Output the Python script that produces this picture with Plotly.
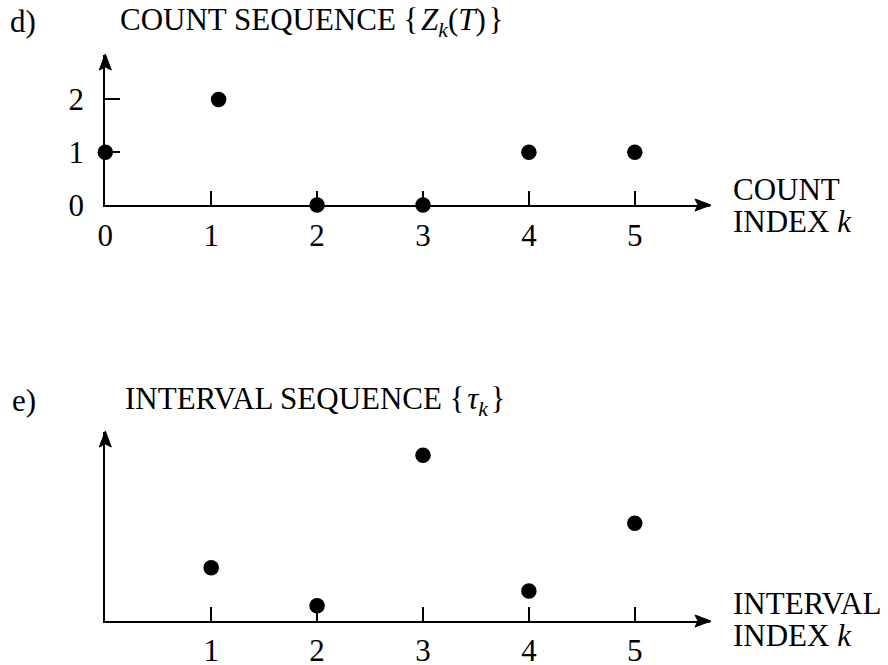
import plotly.graph_objects as go

# ---- data ----
count_k = [0, 1.07, 2, 3, 4, 5]
count_z = [1, 2, 0, 0, 1, 1]
interval_k = [1, 2, 3, 4, 5]
interval_tau = [1.01, 0.29, 3.14, 0.57, 1.85]
count_ticks = [0, 1, 2, 3, 4, 5]
count_yticks = [0, 1, 2]
interval_ticks = [1, 2, 3, 4, 5]

W, H = 888, 665
FONT = "Liberation Serif"
FS = 31

# layout geometry (pixels)
X0, XEND = 105.3, 710.0
UX = 105.9
UY = 52.8
TOP_Y0, TOP_YEND = 205.0, 55.0
BOT_Y0, BOT_YEND = 621.0, 432.0

xdom = [X0 / W, XEND / W]
xrange_ = [0, (XEND - X0) / UX]
ydom_top = [(H - TOP_Y0) / H, (H - TOP_YEND) / H]
yrange_top = [0, (TOP_Y0 - TOP_YEND) / UY]
ydom_bot = [(H - BOT_Y0) / H, (H - BOT_YEND) / H]
yrange_bot = [0, (BOT_Y0 - BOT_YEND) / UY]

fig = go.Figure()
fig.add_trace(go.Scatter(x=count_k, y=count_z, mode="markers",
                         marker=dict(color="black", size=15.5),
                         cliponaxis=False, xaxis="x", yaxis="y",
                         showlegend=False, hoverinfo="skip"))
fig.add_trace(go.Scatter(x=interval_k, y=interval_tau, mode="markers",
                         marker=dict(color="black", size=15.5),
                         cliponaxis=False, xaxis="x2", yaxis="y2",
                         showlegend=False, hoverinfo="skip"))

axis_common = dict(showgrid=False, zeroline=False, showline=True,
                   linecolor="black", linewidth=2, ticks="inside",
                   tickcolor="black", tickwidth=2, fixedrange=True,
                   automargin=False,
                   tickfont=dict(family=FONT, size=FS, color="black"))

fig.update_layout(
    template="none",
    width=W, height=H, margin=dict(l=0, r=0, t=0, b=0, pad=0),
    paper_bgcolor="white", plot_bgcolor="white",
    xaxis=dict(domain=xdom, range=xrange_, anchor="y", tickvals=count_ticks,
               ticktext=[str(v) for v in count_ticks], ticklen=14,
               ticklabelstandoff=2, **axis_common),
    yaxis=dict(domain=ydom_top, range=yrange_top, anchor="x", tickvals=count_yticks,
               ticktext=[str(v) for v in count_yticks], ticklen=15,
               ticklabelstandoff=13, **axis_common),
    xaxis2=dict(domain=xdom, range=xrange_, anchor="y2", tickvals=interval_ticks,
                ticktext=[str(v) for v in interval_ticks], ticklen=14,
                ticklabelstandoff=1, **axis_common),
    yaxis2=dict(domain=ydom_bot, range=yrange_bot, anchor="x2",
                showticklabels=False, **{**axis_common, "ticks": ""}),
)

# arrow heads at axis ends (paper-referenced so they are not clipped)
head = "M1,0 L-15,6 L-12,0 L-15,-6 Z"
head_up = "M0,1 L-6,-15 L0,-12 L6,-15 Z"
for ydom in (ydom_top, ydom_bot):
    fig.add_shape(type="path", path=head, xref="paper", yref="paper",
                  xsizemode="pixel", ysizemode="pixel",
                  xanchor=xdom[1], yanchor=ydom[0],
                  fillcolor="black", line=dict(color="black", width=1))
    fig.add_shape(type="path", path=head_up, xref="paper", yref="paper",
                  xsizemode="pixel", ysizemode="pixel",
                  xanchor=xdom[0], yanchor=ydom[1],
                  fillcolor="black", line=dict(color="black", width=1))

def txt(x, y, s):
    fig.add_annotation(text=s, x=x / W, y=1 - y / H, xref="paper", yref="paper",
                       xanchor="left", yanchor="middle", showarrow=False,
                       font=dict(family=FONT, size=FS, color="black"))

HS = "\u200a"
txt(8, 22, "d)")
txt(118, 22, "COUNT SEQUENCE {" + HS + "<i>Z</i><sub><i>k</i></sub>"
    + "(<i>T</i>)" + HS + "}")
txt(731, 189, "COUNT")
txt(731, 221, "INDEX <i>k</i>")

txt(10, 401, "e)")
txt(123, 401, "INTERVAL SEQUENCE {" + HS + "<i>τ</i><sub><i>k</i></sub>" + HS + "}")
txt(731, 603, "INTERVAL")
txt(731, 635, "INDEX <i>k</i>")

fig.write_html("out.html")
